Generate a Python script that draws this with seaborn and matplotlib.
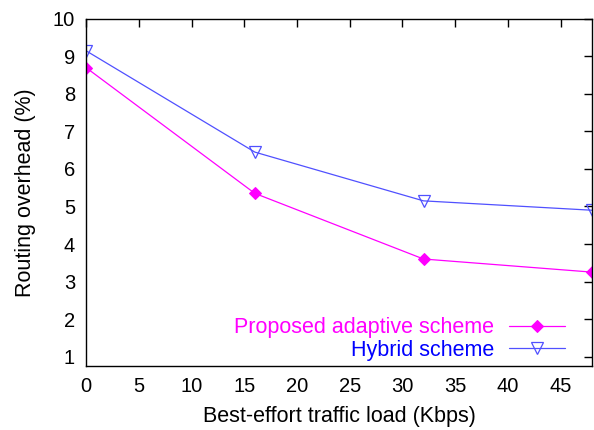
import matplotlib
matplotlib.use("Agg")
import matplotlib.pyplot as plt
import seaborn as sns
import pandas as pd

load_kbps = [0, 16, 32, 48]
proposed = [8.7, 5.35, 3.6, 3.25]
hybrid = [9.15, 6.45, 5.15, 4.9]
series_names = ["Proposed adaptive scheme", "Hybrid scheme"]
x_ticks = [0, 5, 10, 15, 20, 25, 30, 35, 40, 45]
y_ticks = [1, 2, 3, 4, 5, 6, 7, 8, 9, 10]

sns.set_theme(style="white")
plt.rcParams['font.family'] = ['Liberation Sans', 'DejaVu Sans']
plt.rcParams['text.color'] = 'black'
plt.rcParams['axes.labelcolor'] = 'black'
plt.rcParams['xtick.color'] = 'black'
plt.rcParams['ytick.color'] = 'black'

df = pd.DataFrame({
    "load": load_kbps * 2,
    "overhead": proposed + hybrid,
    "scheme": [series_names[0]] * len(load_kbps) + [series_names[1]] * len(load_kbps),
})

fig = plt.figure(figsize=(5.94, 4.30), dpi=100)
ax = fig.add_axes([0.145, 0.149, 0.852, 0.807])

colors = {series_names[0]: "#ff00ff", series_names[1]: "#5050ff"}
text_colors = {series_names[0]: "#ff00ff", series_names[1]: "#0000ff"}

sub = df[df.scheme == series_names[0]]
sns.lineplot(data=sub, x="load", y="overhead", ax=ax, color=colors[series_names[0]],
             lw=0.9, marker="D", markersize=6, markeredgecolor="#ff00ff",
             markerfacecolor="#ff00ff", label=series_names[0])
sub = df[df.scheme == series_names[1]]
sns.lineplot(data=sub, x="load", y="overhead", ax=ax, color=colors[series_names[1]],
             lw=0.9, marker="v", markersize=8.5, markeredgecolor="#5050ff",
             markerfacecolor="none", markeredgewidth=0.9, label=series_names[1])

ax.set_xlim(0, 48)
ax.set_ylim(0.75, 10)
ax.set_xticks(x_ticks)
ax.set_yticks(y_ticks)
ax.tick_params(axis="both", direction="in", length=6, width=1, labelsize=14.5,
               top=True, right=True, color="black", labelcolor="black", pad=8)
for s in ax.spines.values():
    s.set_color("black")
    s.set_linewidth(1.0)
ax.set_xlabel("Best-effort traffic load (Kbps)", fontsize=15.5, labelpad=7, color="black")
ax.set_ylabel("Routing overhead (%)", fontsize=15.5, labelpad=12, color="black")

leg = ax.legend(loc="lower right", frameon=False, markerfirst=False, fontsize=15.5,
                handlelength=2.6, handletextpad=0.7, labelspacing=0.08,
                borderaxespad=0.0, bbox_to_anchor=(0.963, -0.01))
for t in leg.get_texts():
    t.set_color(text_colors[t.get_text()])

fig.savefig("out.png", dpi=100)
